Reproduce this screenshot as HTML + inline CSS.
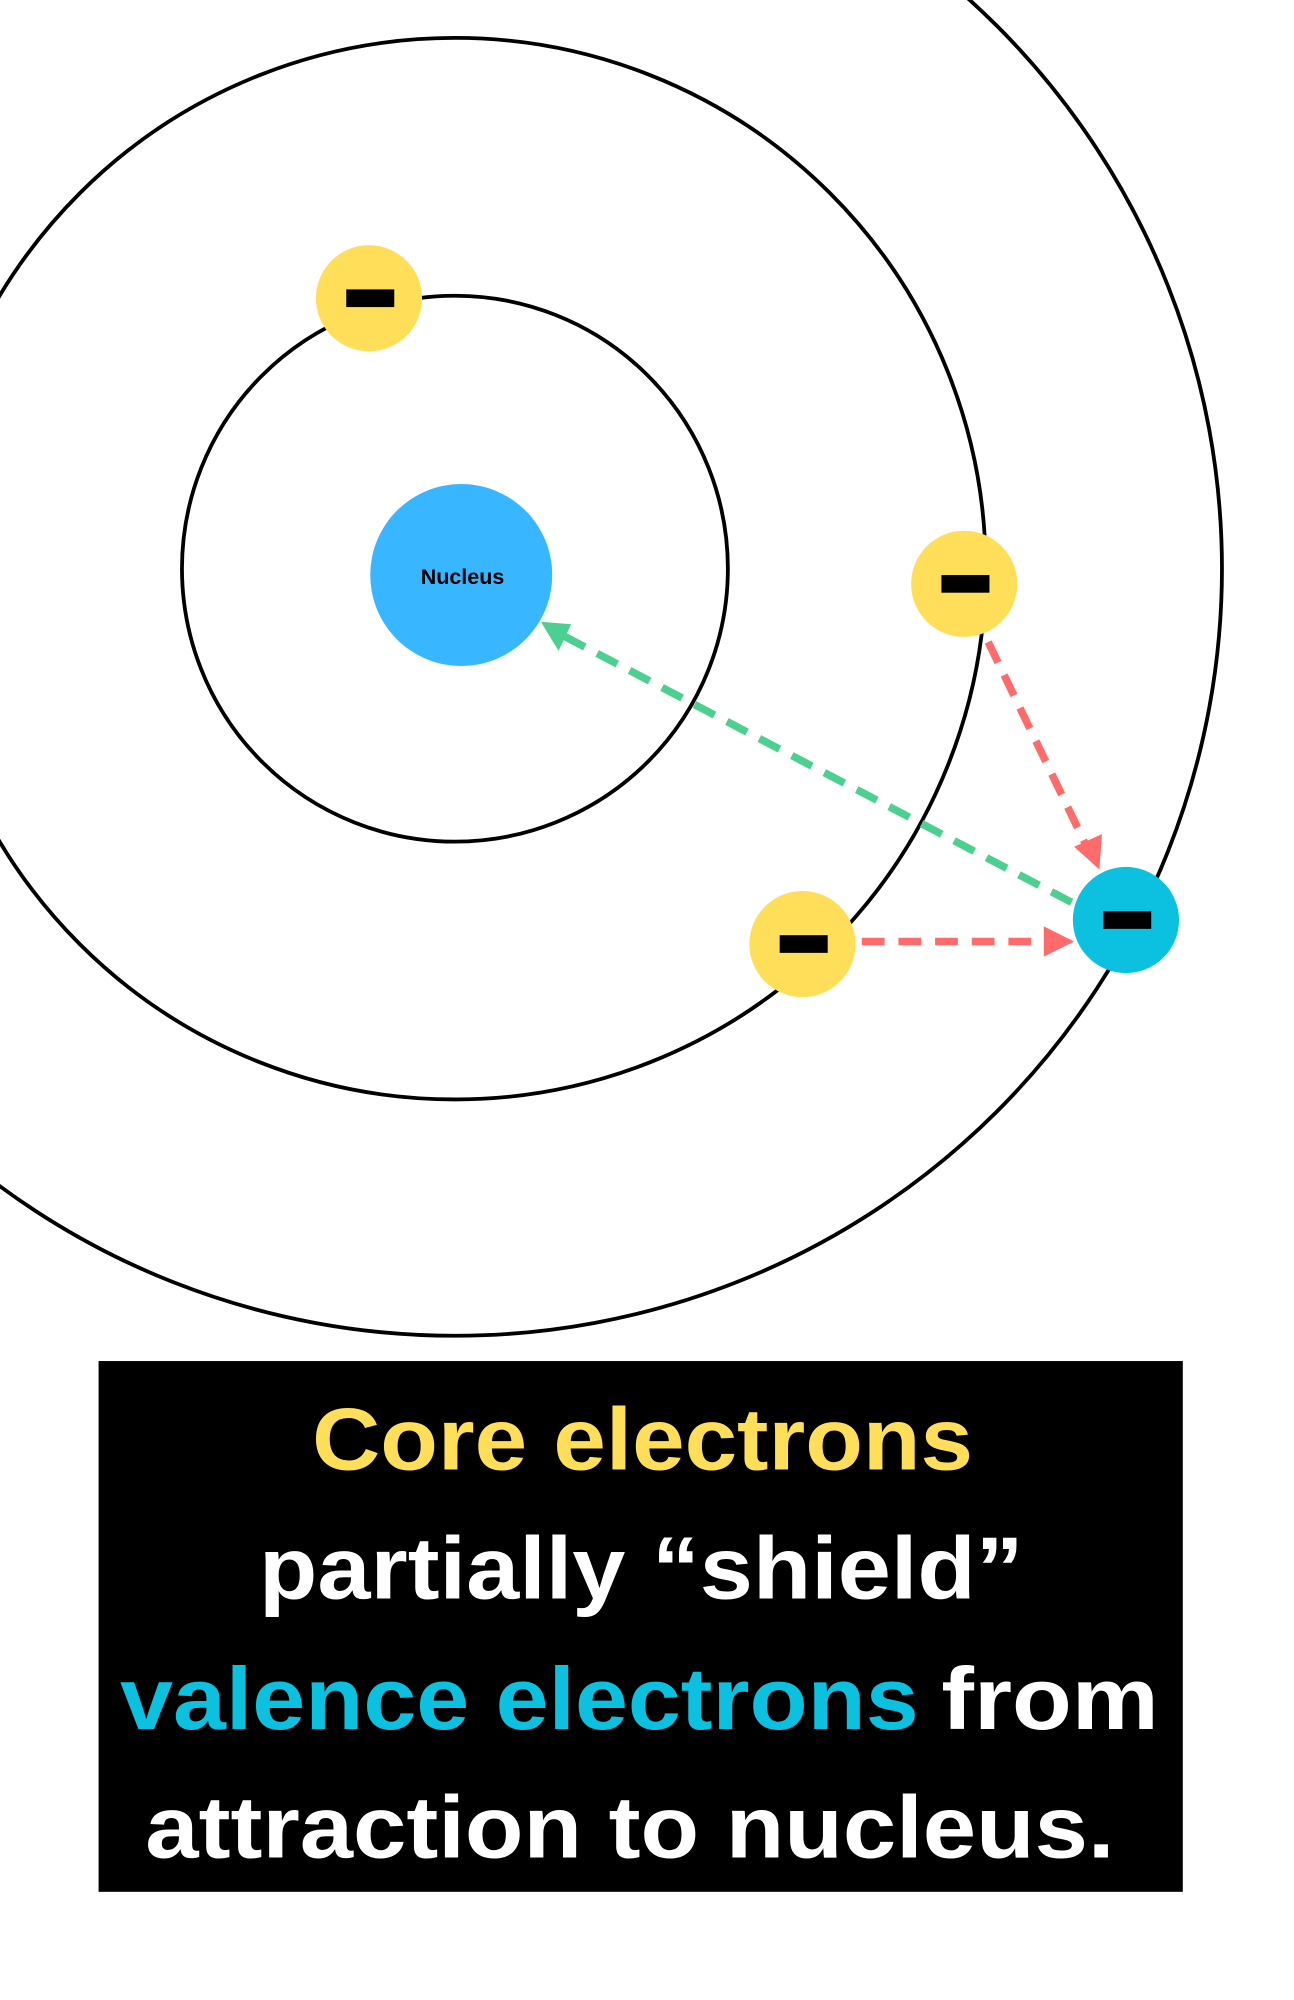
<!DOCTYPE html>
<html><head><meta charset="utf-8"><style>html,body{margin:0;padding:0;background:#fff}svg{display:block}</style></head>
<body>
<svg width="1294" height="2000" viewBox="0 0 1024 1582.6" preserveAspectRatio="none" xmlns="http://www.w3.org/2000/svg">
<rect width="1024" height="1582.6" fill="#fff"/>
<g fill="none" stroke="#000" stroke-width="3">
<circle cx="360" cy="450" r="216"/>
<circle cx="360" cy="450" r="420"/>
<circle cx="360" cy="450" r="607"/>
</g>
<circle cx="365" cy="455" r="72" fill="#38b6ff"/>
<text x="366" y="462" font-family="Liberation Sans, sans-serif" font-weight="bold" font-size="17" text-anchor="middle" fill="#000">Nucleus</text>
<g stroke-width="6" stroke-dasharray="18 11" fill="none">
<line x1="848" y1="714" x2="440" y2="500" stroke="#4cd08f"/>
<line x1="782" y1="508" x2="860" y2="670" stroke="#ff6b6b"/>
<line x1="682" y1="745" x2="832" y2="745" stroke="#ff6b6b"/>
</g>
<polygon points="428,492 452,494 442,515" fill="#4cd08f"/>
<polygon points="870,688 850,670 872,660" fill="#ff6b6b"/>
<polygon points="850,745 826,733 826,757" fill="#ff6b6b"/>
<g>
<circle cx="292" cy="236" r="42" fill="#ffde59"/><rect x="274" y="229" width="38" height="14" fill="#000"/>
<circle cx="763" cy="462" r="42" fill="#ffde59"/><rect x="745" y="455" width="38" height="14" fill="#000"/>
<circle cx="635" cy="747" r="42" fill="#ffde59"/><rect x="617" y="740" width="38" height="14" fill="#000"/>
<circle cx="891" cy="728" r="42" fill="#0cc0df"/><rect x="873" y="721" width="38" height="14" fill="#000"/>
</g>
<rect x="78" y="1077" width="858" height="420" fill="#000"/>
<g font-family="Liberation Sans, sans-serif" font-weight="bold" font-size="70">
<text x="247" y="1163" textLength="523" lengthAdjust="spacingAndGlyphs" fill="#ffde59">Core electrons</text>
<text x="205" y="1265" textLength="605" lengthAdjust="spacingAndGlyphs" fill="#fff">partially “shield”</text>
<text x="95" y="1368" textLength="632" lengthAdjust="spacingAndGlyphs" fill="#0cc0df">valence electrons</text>
<text x="745" y="1368" textLength="172" lengthAdjust="spacingAndGlyphs" fill="#fff">from</text>
<text x="115" y="1470" textLength="767" lengthAdjust="spacingAndGlyphs" fill="#fff">attraction to nucleus.</text>
</g>
</svg>
</body></html>
